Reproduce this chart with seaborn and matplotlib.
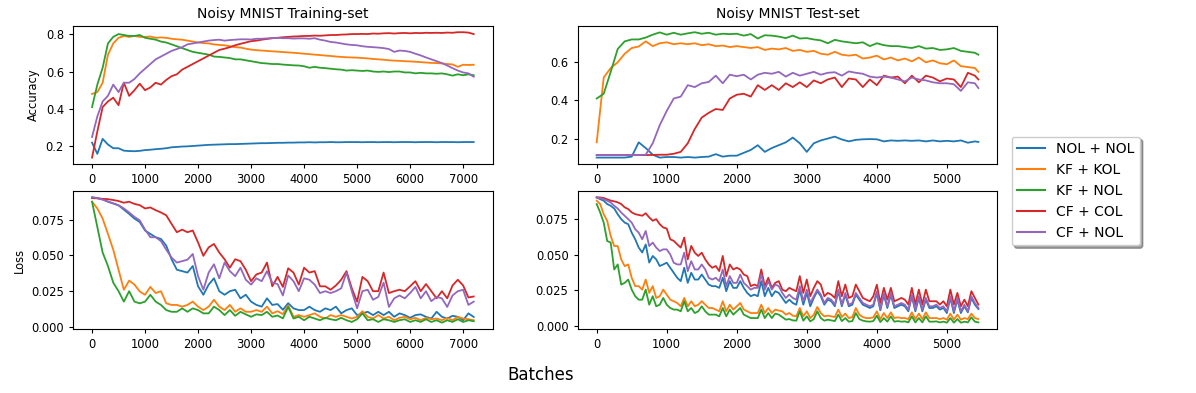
"""
Accuracy and loss curves on noisy MNIST for the five filter / output-layer combinations.
"""

import matplotlib
matplotlib.use('Agg')
import matplotlib.pyplot as plt
from matplotlib.lines import Line2D
from matplotlib.ticker import MultipleLocator
import seaborn as sns
import pandas as pd

methods = ['NOL + NOL', 'KF + KOL', 'KF + NOL', 'CF + COL', 'CF + NOL']
colors = ['#1f77b4', '#ff7f0e', '#2ca02c', '#d62728', '#9467bd']

# batch positions of the logged points
train_batches = list(range(0, 7201, 100))
test_acc_batches = list(range(0, 5401, 100)) + [5450]
test_loss_batches = list(range(0, 5451, 50))

# ---- training-set accuracy (every 100 batches) ----
train_acc_nol_nol = [0.22, 0.16, 0.24, 0.21, 0.19, 0.19, 0.177, 0.175, 0.174, 0.176,
                     0.18, 0.182, 0.185, 0.187, 0.19, 0.195, 0.197, 0.199, 0.20, 0.202,
                     0.204, 0.206, 0.208, 0.209, 0.21, 0.211, 0.212, 0.212, 0.213, 0.214,
                     0.215, 0.216, 0.217, 0.217, 0.218, 0.219, 0.219, 0.22, 0.22, 0.221,
                     0.221, 0.222, 0.221, 0.222, 0.222, 0.223, 0.222, 0.222, 0.223, 0.223,
                     0.223, 0.222, 0.223, 0.223, 0.222, 0.223, 0.223, 0.222, 0.223, 0.223,
                     0.223, 0.222, 0.223, 0.223, 0.223, 0.222, 0.223, 0.223, 0.223, 0.222,
                     0.223, 0.223, 0.223]
train_acc_kf_kol = [0.48, 0.49, 0.54, 0.69, 0.75, 0.78, 0.79, 0.785, 0.79, 0.785,
                    0.785, 0.787, 0.78, 0.782, 0.78, 0.775, 0.772, 0.77, 0.765, 0.76,
                    0.755, 0.752, 0.75, 0.745, 0.742, 0.74, 0.735, 0.73, 0.728, 0.722,
                    0.717, 0.714, 0.712, 0.71, 0.708, 0.706, 0.704, 0.702, 0.70, 0.698,
                    0.695, 0.693, 0.69, 0.688, 0.685, 0.683, 0.68, 0.678, 0.676, 0.675,
                    0.674, 0.672, 0.67, 0.667, 0.665, 0.663, 0.66, 0.658, 0.657, 0.655,
                    0.654, 0.652, 0.65, 0.648, 0.646, 0.645, 0.643, 0.64, 0.638, 0.625,
                    0.636, 0.635, 0.636]
train_acc_kf_nol = [0.41, 0.53, 0.62, 0.75, 0.785, 0.80, 0.795, 0.79, 0.79, 0.795,
                    0.78, 0.775, 0.77, 0.76, 0.755, 0.745, 0.735, 0.725, 0.715, 0.705,
                    0.70, 0.695, 0.69, 0.68, 0.678, 0.675, 0.672, 0.665, 0.665, 0.66,
                    0.655, 0.65, 0.645, 0.643, 0.64, 0.64, 0.637, 0.635, 0.633, 0.632,
                    0.628, 0.62, 0.625, 0.62, 0.618, 0.615, 0.612, 0.61, 0.605, 0.607,
                    0.605, 0.603, 0.605, 0.60, 0.598, 0.60, 0.597, 0.60, 0.60, 0.595,
                    0.595, 0.59, 0.593, 0.59, 0.59, 0.588, 0.59, 0.585, 0.578, 0.585,
                    0.58, 0.585, 0.58]
train_acc_cf_col = [0.14, 0.28, 0.41, 0.44, 0.46, 0.42, 0.54, 0.47, 0.50, 0.535,
                    0.50, 0.515, 0.54, 0.53, 0.555, 0.575, 0.585, 0.61, 0.625, 0.64,
                    0.655, 0.67, 0.685, 0.70, 0.715, 0.722, 0.73, 0.74, 0.748, 0.755,
                    0.762, 0.765, 0.77, 0.774, 0.778, 0.78, 0.783, 0.785, 0.787, 0.788,
                    0.79, 0.79, 0.792, 0.791, 0.793, 0.795, 0.795, 0.797, 0.798, 0.80,
                    0.80, 0.801, 0.80, 0.803, 0.802, 0.804, 0.805, 0.803, 0.805, 0.806,
                    0.804, 0.806, 0.805, 0.807, 0.806, 0.807, 0.806, 0.808, 0.807, 0.81,
                    0.81, 0.808, 0.80]
train_acc_cf_nol = [0.25, 0.36, 0.44, 0.47, 0.53, 0.49, 0.54, 0.54, 0.56, 0.59,
                    0.615, 0.64, 0.665, 0.68, 0.695, 0.71, 0.72, 0.73, 0.745, 0.75,
                    0.755, 0.76, 0.765, 0.768, 0.77, 0.765, 0.768, 0.77, 0.772, 0.772,
                    0.771, 0.775, 0.775, 0.777, 0.778, 0.78, 0.778, 0.778, 0.776, 0.777,
                    0.777, 0.775, 0.778, 0.77, 0.765, 0.758, 0.755, 0.75, 0.745, 0.742,
                    0.74, 0.735, 0.732, 0.73, 0.728, 0.725, 0.72, 0.705, 0.712, 0.71,
                    0.705, 0.695, 0.686, 0.675, 0.665, 0.655, 0.645, 0.632, 0.618, 0.605,
                    0.595, 0.59, 0.572]

# ---- training-set loss (every 100 batches) ----
train_loss_nol_nol = [0.0906, 0.090, 0.0892, 0.0875, 0.0863, 0.085, 0.082, 0.079, 0.0757, 0.0733,
                      0.0674, 0.065, 0.0627, 0.0615, 0.0568, 0.0473, 0.040, 0.039, 0.038, 0.0426,
                      0.0284, 0.0225, 0.0296, 0.034, 0.025, 0.0225, 0.025, 0.026, 0.020, 0.0225,
                      0.0177, 0.0154, 0.0142, 0.020, 0.0154, 0.016, 0.012, 0.0166, 0.013, 0.0118,
                      0.0118, 0.0142, 0.0118, 0.0106, 0.013, 0.0118, 0.0142, 0.0095, 0.0118, 0.013,
                      0.0083, 0.0095, 0.0106, 0.0083, 0.0106, 0.0083, 0.0106, 0.0071, 0.0095, 0.0083,
                      0.0064, 0.0083, 0.0088, 0.0071, 0.0059, 0.0106, 0.0071, 0.0059, 0.0078, 0.0071,
                      0.0047, 0.0095, 0.007]
train_loss_kf_kol = [0.0875, 0.0828, 0.0757, 0.065, 0.054, 0.040, 0.026, 0.0324, 0.0296, 0.0248,
                     0.0225, 0.028, 0.0237, 0.025, 0.0165, 0.0154, 0.0154, 0.0142, 0.0154, 0.0177,
                     0.0142, 0.0118, 0.0142, 0.019, 0.0142, 0.0118, 0.0154, 0.0106, 0.013, 0.0106,
                     0.0106, 0.0118, 0.0106, 0.0142, 0.0095, 0.011, 0.009, 0.015, 0.0071, 0.0083,
                     0.0071, 0.0083, 0.0095, 0.0071, 0.0059, 0.0083, 0.0071, 0.0083, 0.0071, 0.0059,
                     0.0071, 0.0110, 0.0071, 0.0059, 0.0083, 0.0059, 0.0071, 0.0047, 0.0064, 0.0071,
                     0.0054, 0.0064, 0.0047, 0.0064, 0.0054, 0.0059, 0.0047, 0.0064, 0.0047, 0.0071,
                     0.0059, 0.0054, 0.0047]
train_loss_kf_nol = [0.0875, 0.0698, 0.052, 0.0426, 0.031, 0.025, 0.0177, 0.025, 0.0177, 0.0165,
                     0.0177, 0.0225, 0.0177, 0.0154, 0.0118, 0.0106, 0.0106, 0.013, 0.0106, 0.013,
                     0.0118, 0.0095, 0.0095, 0.0142, 0.0118, 0.0083, 0.0118, 0.0078, 0.0106, 0.0088,
                     0.0071, 0.0088, 0.0083, 0.0106, 0.0071, 0.008, 0.006, 0.014, 0.0059, 0.0071,
                     0.0047, 0.0071, 0.0059, 0.0047, 0.0064, 0.0054, 0.0047, 0.0064, 0.0047, 0.0035,
                     0.0054, 0.0095, 0.0047, 0.0054, 0.0035, 0.0054, 0.0047, 0.0035, 0.0047, 0.0054,
                     0.0035, 0.0047, 0.0035, 0.0054, 0.0035, 0.0047, 0.003, 0.0047, 0.0035, 0.0054,
                     0.0035, 0.0047, 0.004]
train_loss_cf_col = [0.090, 0.0899, 0.0895, 0.0893, 0.0887, 0.088, 0.0868, 0.0875, 0.086, 0.0851,
                     0.0828, 0.0835, 0.0816, 0.080, 0.078, 0.072, 0.0662, 0.068, 0.0662, 0.0674,
                     0.059, 0.0497, 0.0556, 0.058, 0.052, 0.0473, 0.0414, 0.0473, 0.046, 0.040,
                     0.032, 0.0367, 0.038, 0.045, 0.0284, 0.035, 0.028, 0.041, 0.038, 0.0296,
                     0.0414, 0.038, 0.039, 0.0284, 0.0284, 0.026, 0.029, 0.033, 0.039, 0.027,
                     0.0177, 0.035, 0.032, 0.025, 0.025, 0.038, 0.0237, 0.025, 0.026, 0.025,
                     0.0284, 0.032, 0.025, 0.030, 0.025, 0.020, 0.025, 0.020, 0.029, 0.033,
                     0.029, 0.0206, 0.0213]
train_loss_cf_nol = [0.0906, 0.090, 0.0889, 0.0877, 0.0863, 0.085, 0.0828, 0.080, 0.0769, 0.0745,
                     0.068, 0.0627, 0.0627, 0.060, 0.054, 0.0485, 0.045, 0.046, 0.047, 0.051,
                     0.0355, 0.026, 0.038, 0.0438, 0.034, 0.045, 0.039, 0.0355, 0.0414, 0.033,
                     0.0296, 0.034, 0.032, 0.039, 0.031, 0.030, 0.022, 0.036, 0.032, 0.025,
                     0.034, 0.033, 0.0296, 0.0237, 0.025, 0.0237, 0.025, 0.027, 0.038, 0.025,
                     0.013, 0.025, 0.026, 0.019, 0.021, 0.031, 0.014, 0.020, 0.022, 0.020,
                     0.0237, 0.028, 0.020, 0.025, 0.018, 0.021, 0.020, 0.014, 0.022, 0.025,
                     0.026, 0.0154, 0.0177]

# ---- test-set accuracy (every 100 batches, last point at 5450) ----
test_acc_nol_nol = [0.10, 0.10, 0.10, 0.10, 0.10, 0.105, 0.18, 0.15, 0.115, 0.10,
                    0.103, 0.103, 0.10, 0.103, 0.10, 0.103, 0.105, 0.118, 0.105, 0.11,
                    0.11, 0.125, 0.14, 0.165, 0.13, 0.15, 0.165, 0.18, 0.205, 0.175,
                    0.13, 0.175, 0.19, 0.20, 0.21, 0.195, 0.185, 0.193, 0.196, 0.197,
                    0.196, 0.185, 0.19, 0.188, 0.19, 0.188, 0.19, 0.185, 0.19, 0.185,
                    0.188, 0.185, 0.19, 0.178, 0.185, 0.182]
test_acc_kf_kol = [0.18, 0.52, 0.57, 0.60, 0.645, 0.675, 0.683, 0.71, 0.685, 0.70,
                   0.705, 0.695, 0.70, 0.695, 0.70, 0.69, 0.695, 0.685, 0.688, 0.68,
                   0.685, 0.68, 0.675, 0.68, 0.665, 0.672, 0.668, 0.675, 0.66, 0.665,
                   0.655, 0.66, 0.645, 0.64, 0.655, 0.64, 0.635, 0.64, 0.62, 0.625,
                   0.635, 0.615, 0.625, 0.61, 0.62, 0.605, 0.625, 0.60, 0.61, 0.595,
                   0.59, 0.61, 0.58, 0.575, 0.57, 0.55]
test_acc_kf_nol = [0.41, 0.435, 0.55, 0.67, 0.71, 0.72, 0.72, 0.73, 0.745, 0.757,
                   0.745, 0.755, 0.745, 0.752, 0.758, 0.75, 0.755, 0.745, 0.75, 0.748,
                   0.75, 0.74, 0.748, 0.725, 0.742, 0.74, 0.735, 0.727, 0.74, 0.725,
                   0.727, 0.72, 0.715, 0.70, 0.718, 0.71, 0.705, 0.70, 0.705, 0.685,
                   0.70, 0.69, 0.685, 0.685, 0.68, 0.675, 0.685, 0.672, 0.675, 0.665,
                   0.668, 0.675, 0.66, 0.655, 0.65, 0.64]
test_acc_cf_col = [0.113, 0.113, 0.113, 0.113, 0.113, 0.113, 0.113, 0.113, 0.114, 0.115,
                   0.115, 0.12, 0.13, 0.175, 0.25, 0.31, 0.335, 0.355, 0.35, 0.41,
                   0.43, 0.435, 0.42, 0.48, 0.455, 0.48, 0.455, 0.49, 0.47, 0.495,
                   0.47, 0.505, 0.49, 0.51, 0.52, 0.47, 0.515, 0.51, 0.47, 0.51,
                   0.48, 0.53, 0.52, 0.525, 0.49, 0.53, 0.495, 0.53, 0.52, 0.50,
                   0.515, 0.51, 0.47, 0.545, 0.53, 0.51]
test_acc_cf_nol = [0.113, 0.113, 0.113, 0.113, 0.113, 0.113, 0.113, 0.115, 0.175, 0.27,
                   0.345, 0.41, 0.42, 0.48, 0.47, 0.49, 0.497, 0.53, 0.49, 0.535,
                   0.527, 0.535, 0.51, 0.535, 0.545, 0.54, 0.55, 0.525, 0.545, 0.53,
                   0.54, 0.55, 0.535, 0.545, 0.548, 0.53, 0.552, 0.545, 0.54, 0.525,
                   0.52, 0.525, 0.52, 0.51, 0.50, 0.52, 0.51, 0.505, 0.495, 0.49,
                   0.49, 0.485, 0.45, 0.495, 0.49, 0.465]

# ---- test-set loss (every 50 batches) ----
test_loss_nol_nol = [0.0897, 0.0885, 0.0874, 0.0851, 0.0839, 0.0820, 0.0780, 0.0746, 0.0722, 0.0711,
                     0.0652, 0.0606, 0.0548, 0.0514, 0.0570, 0.0444, 0.0490, 0.0466, 0.0420, 0.0431,
                     0.0443, 0.0408, 0.0373, 0.0338, 0.0315, 0.0408, 0.0303, 0.0373, 0.0326, 0.0326,
                     0.0361, 0.0326, 0.0291, 0.0280, 0.0280, 0.0268, 0.0338, 0.0245, 0.0315, 0.0268,
                     0.0268, 0.0315, 0.0268, 0.0233, 0.0210, 0.0221, 0.0210, 0.0315, 0.0210, 0.0268,
                     0.0210, 0.0245, 0.0233, 0.0198, 0.0163, 0.0186, 0.0163, 0.0151, 0.0256, 0.0151,
                     0.0233, 0.0140, 0.0198, 0.0245, 0.0210, 0.0151, 0.0186, 0.0175, 0.0140, 0.0245,
                     0.0140, 0.0221, 0.0140, 0.0151, 0.0221, 0.0186, 0.0151, 0.0140, 0.0128, 0.0140,
                     0.0233, 0.0112, 0.0221, 0.0128, 0.0221, 0.0128, 0.0140, 0.0151, 0.0140, 0.0105,
                     0.0210, 0.0105, 0.0198, 0.0105, 0.0186, 0.0128, 0.0128, 0.0140, 0.0117, 0.0128,
                     0.0093, 0.0198, 0.0093, 0.0186, 0.0093, 0.0140, 0.0098, 0.0198, 0.0151, 0.0121]
test_loss_kf_kol = [0.0874, 0.0851, 0.0780, 0.0734, 0.0629, 0.0559, 0.0559, 0.0466, 0.0419, 0.0431,
                    0.0338, 0.0280, 0.0280, 0.0256, 0.0326, 0.0233, 0.0280, 0.0198, 0.0210, 0.0256,
                    0.0221, 0.0186, 0.0175, 0.0163, 0.0140, 0.0198, 0.0140, 0.0175, 0.0140, 0.0151,
                    0.0175, 0.0151, 0.0128, 0.0128, 0.0117, 0.0105, 0.0175, 0.0105, 0.0151, 0.0117,
                    0.0140, 0.0163, 0.0117, 0.0105, 0.0093, 0.0093, 0.0093, 0.0151, 0.0093, 0.0128,
                    0.0093, 0.0117, 0.0110, 0.0105, 0.0082, 0.0093, 0.0075, 0.0070, 0.0128, 0.0070,
                    0.0105, 0.0058, 0.0082, 0.0135, 0.0093, 0.0070, 0.0075, 0.0070, 0.0065, 0.0117,
                    0.0065, 0.0089, 0.0058, 0.0065, 0.0128, 0.0082, 0.0065, 0.0058, 0.0058, 0.0063,
                    0.0105, 0.0051, 0.0093, 0.0058, 0.0098, 0.0058, 0.0063, 0.0058, 0.0058, 0.0051,
                    0.0098, 0.0051, 0.0089, 0.0051, 0.0098, 0.0058, 0.0058, 0.0058, 0.0051, 0.0058,
                    0.0047, 0.0089, 0.0047, 0.0082, 0.0047, 0.0058, 0.0051, 0.0089, 0.0058, 0.0051]
test_loss_kf_nol = [0.0851, 0.0792, 0.0722, 0.0594, 0.0583, 0.0396, 0.0431, 0.0291, 0.0303, 0.0326,
                    0.0256, 0.0210, 0.0186, 0.0186, 0.0256, 0.0151, 0.0210, 0.0140, 0.0151, 0.0198,
                    0.0151, 0.0128, 0.0117, 0.0117, 0.0105, 0.0175, 0.0105, 0.0128, 0.0093, 0.0105,
                    0.0140, 0.0105, 0.0082, 0.0082, 0.0082, 0.0070, 0.0128, 0.0070, 0.0117, 0.0082,
                    0.0105, 0.0128, 0.0082, 0.0070, 0.0058, 0.0058, 0.0058, 0.0117, 0.0058, 0.0093,
                    0.0058, 0.0089, 0.0082, 0.0065, 0.0047, 0.0051, 0.0042, 0.0040, 0.0105, 0.0040,
                    0.0070, 0.0035, 0.0051, 0.0105, 0.0058, 0.0040, 0.0047, 0.0042, 0.0037, 0.0082,
                    0.0037, 0.0058, 0.0033, 0.0037, 0.0093, 0.0051, 0.0040, 0.0035, 0.0033, 0.0037,
                    0.0075, 0.0030, 0.0058, 0.0033, 0.0070, 0.0033, 0.0037, 0.0033, 0.0035, 0.0028,
                    0.0070, 0.0028, 0.0058, 0.0028, 0.0070, 0.0033, 0.0033, 0.0035, 0.0028, 0.0033,
                    0.0026, 0.0058, 0.0026, 0.0051, 0.0026, 0.0033, 0.0028, 0.0063, 0.0033, 0.0028]
test_loss_cf_col = [0.0898, 0.0897, 0.0893, 0.0884, 0.0875, 0.0870, 0.0863, 0.0851, 0.0828, 0.0816,
                    0.0793, 0.0781, 0.0775, 0.0770, 0.0787, 0.0758, 0.0735, 0.0746, 0.0711, 0.0688,
                    0.0681, 0.0606, 0.0595, 0.0571, 0.0548, 0.0618, 0.0466, 0.0560, 0.0513, 0.0490,
                    0.0513, 0.0466, 0.0431, 0.0408, 0.0420, 0.0385, 0.0490, 0.0350, 0.0431, 0.0396,
                    0.0408, 0.0396, 0.0361, 0.0350, 0.0280, 0.0291, 0.0280, 0.0396, 0.0280, 0.0338,
                    0.0268, 0.0303, 0.0315, 0.0256, 0.0245, 0.0268, 0.0256, 0.0245, 0.0350, 0.0233,
                    0.0326, 0.0210, 0.0268, 0.0315, 0.0291, 0.0210, 0.0233, 0.0221, 0.0198, 0.0315,
                    0.0210, 0.0291, 0.0198, 0.0210, 0.0291, 0.0245, 0.0198, 0.0186, 0.0175, 0.0210,
                    0.0290, 0.0163, 0.0268, 0.0186, 0.0268, 0.0175, 0.0186, 0.0198, 0.0186, 0.0152,
                    0.0268, 0.0152, 0.0256, 0.0152, 0.0256, 0.0175, 0.0175, 0.0175, 0.0152, 0.0175,
                    0.0140, 0.0256, 0.0152, 0.0233, 0.0140, 0.0186, 0.0140, 0.0245, 0.0198, 0.0152]
test_loss_cf_nol = [0.0897, 0.0892, 0.0885, 0.0874, 0.0862, 0.0839, 0.0820, 0.0792, 0.0769, 0.0746,
                    0.0722, 0.0676, 0.0652, 0.0606, 0.0664, 0.0559, 0.0583, 0.0548, 0.0524, 0.0536,
                    0.0536, 0.0501, 0.0443, 0.0431, 0.0431, 0.0513, 0.0384, 0.0454, 0.0396, 0.0396,
                    0.0431, 0.0396, 0.0338, 0.0326, 0.0338, 0.0315, 0.0396, 0.0280, 0.0350, 0.0303,
                    0.0303, 0.0361, 0.0303, 0.0280, 0.0256, 0.0268, 0.0268, 0.0361, 0.0256, 0.0315,
                    0.0256, 0.0291, 0.0280, 0.0233, 0.0198, 0.0221, 0.0198, 0.0186, 0.0280, 0.0175,
                    0.0256, 0.0163, 0.0210, 0.0256, 0.0221, 0.0163, 0.0198, 0.0186, 0.0151, 0.0256,
                    0.0151, 0.0233, 0.0151, 0.0163, 0.0233, 0.0198, 0.0163, 0.0151, 0.0140, 0.0151,
                    0.0245, 0.0117, 0.0233, 0.0140, 0.0233, 0.0140, 0.0151, 0.0163, 0.0151, 0.0117,
                    0.0221, 0.0117, 0.0210, 0.0117, 0.0198, 0.0140, 0.0140, 0.0151, 0.0128, 0.0140,
                    0.0105, 0.0210, 0.0105, 0.0198, 0.0105, 0.0151, 0.0105, 0.0210, 0.0163, 0.0128]


def to_long(batches, series):
    """Stack the five series of one panel into a long-form frame for seaborn."""
    frames = []
    for name, values in zip(methods, series):
        assert len(values) == len(batches), (name, len(values), len(batches))
        frames.append(pd.DataFrame({'Batches': batches, 'value': values, 'method': name}))
    return pd.concat(frames, ignore_index=True)


panels = [
    (train_batches, [train_acc_nol_nol, train_acc_kf_kol, train_acc_kf_nol, train_acc_cf_col, train_acc_cf_nol],
     'Noisy MNIST Training-set', 'Accuracy', False),
    (test_acc_batches, [test_acc_nol_nol, test_acc_kf_kol, test_acc_kf_nol, test_acc_cf_col, test_acc_cf_nol],
     'Noisy MNIST Test-set', None, False),
    (train_batches, [train_loss_nol_nol, train_loss_kf_kol, train_loss_kf_nol, train_loss_cf_col, train_loss_cf_nol],
     None, 'Loss', True),
    (test_loss_batches, [test_loss_nol_nol, test_loss_kf_kol, test_loss_kf_nol, test_loss_cf_col, test_loss_cf_nol],
     None, None, True),
]

fig, axes = plt.subplots(2, 2, figsize=(11.96, 3.93), dpi=100)
fig.subplots_adjust(left=0.061, right=0.834, top=0.934, bottom=0.163, wspace=0.202, hspace=0.197)

for ax, (batches, series, title, ylabel, is_loss) in zip(axes.flat, panels):
    df = to_long(batches, series)
    sns.lineplot(data=df, x='Batches', y='value', hue='method', hue_order=methods,
                 palette=colors, errorbar=None, linewidth=1.3, legend=False, ax=ax)
    ax.set_xlabel('')
    ax.set_ylabel(ylabel if ylabel else '', fontsize=8.3)
    if title:
        ax.set_title(title, fontsize=10)
    if is_loss:
        ax.yaxis.set_major_locator(MultipleLocator(0.025))
    ax.tick_params(labelsize=8.3, length=3)

fig.text(0.452, 0.045, 'Batches', ha='center', va='center', fontsize=12)

handles = [Line2D([], [], color=c, linewidth=1.5) for c in colors]
fig.legend(handles, methods, loc='center left', bbox_to_anchor=(0.840, 0.514),
           shadow=True, fontsize=10)

fig.savefig('out.png', dpi=100)
